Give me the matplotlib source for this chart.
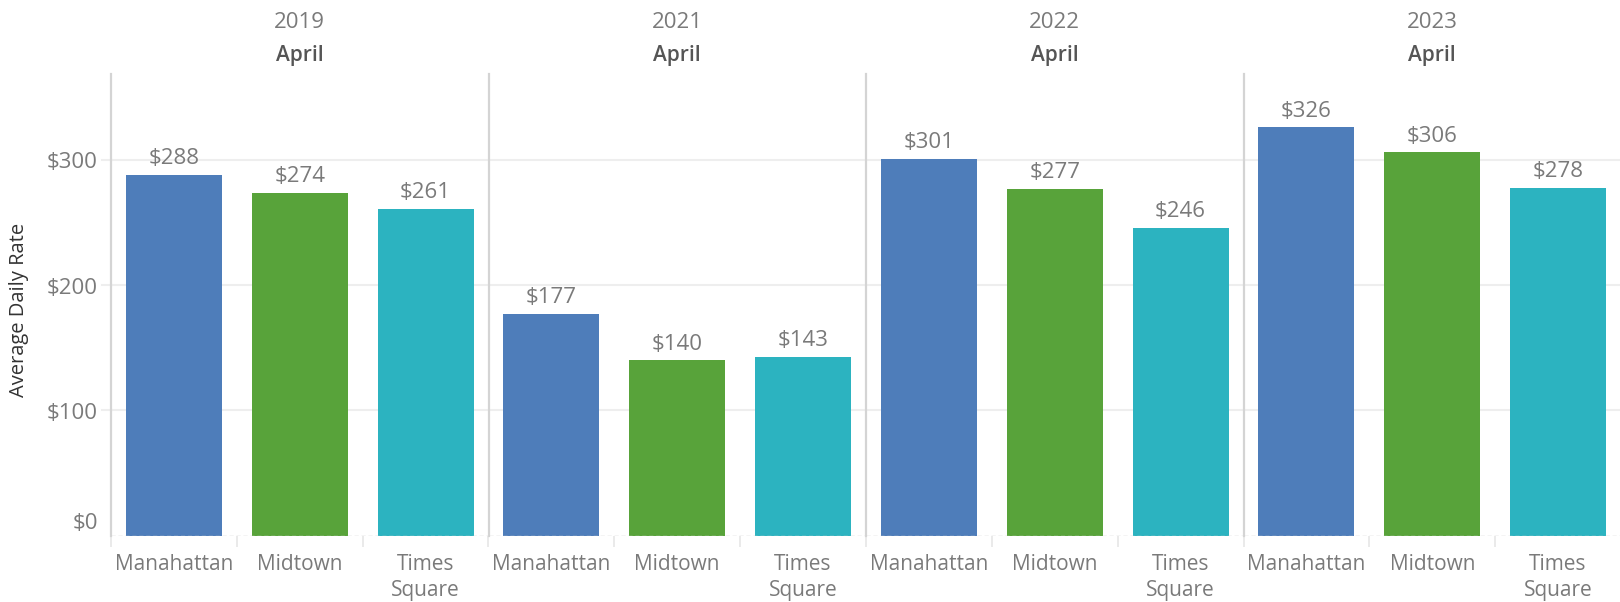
import matplotlib
matplotlib.use("Agg")
import matplotlib.pyplot as plt

years = ["2019", "2021", "2022", "2023"]
month = "April"
categories = ["Manahattan", "Midtown", "Times\nSquare"]
values = {
    "2019": [288, 274, 261],
    "2021": [177, 140, 143],
    "2022": [301, 277, 246],
    "2023": [326, 306, 278],
}
colors = ["#4e7dba", "#58a33a", "#2cb3c0"]
yticks = [0, 100, 200, 300]
ytick_labels = ["$0", "$100", "$200", "$300"]

plt.rcParams['font.family'] = ['Open Sans', 'DejaVu Sans']

W, H = 1620, 602
fig = plt.figure(figsize=(W / 100, H / 100), dpi=100)

left_px, right_px = 111, 1621
top_px, base_px = 74, 535.6
pw = (right_px - left_px) / 4
ymax = (base_px - top_px) / ((base_px - 160) / 300)

txt_gray = "#7a7a7a"
sep_col = "#d4d4d4"
grid_col = "#eeeeee"

for i, yr in enumerate(years):
    x0 = (left_px + i * pw) / W
    ax = fig.add_axes([x0, 1 - base_px / H, pw / W, (base_px - top_px) / H])
    ax.set_xlim(-0.5, 2.5)
    ax.set_ylim(0, ymax)
    for s in ["top", "right", "bottom"]:
        ax.spines[s].set_visible(False)
    ax.spines["left"].set_color(sep_col)
    ax.spines["left"].set_linewidth(1.6)
    for g in yticks[1:]:
        ax.axhline(g, color=grid_col, lw=1.5, zorder=0)
    ax.axhline(0, color="#c8c8c8", lw=1, ls=(0, (3, 2)), zorder=3)
    xs = list(range(len(categories)))
    ax.bar(xs, values[yr], width=0.764, color=colors, zorder=2)
    for x, v in zip(xs, values[yr]):
        ax.annotate(f"${v}", (x, v), xytext=(0, 4), textcoords="offset points",
                    ha="center", va="bottom", fontsize=16, color=txt_gray)
    ax.set_xticks([-0.5, 0.5, 1.5])
    ax.set_xticklabels([])
    ax.tick_params(axis="x", length=8, color="#e6e6e6", width=1.2)
    for x, c in zip(xs, categories):
        ax.annotate(c, (x, 0), xytext=(0, -13), textcoords="offset points",
                    ha="center", va="top", fontsize=15, color=txt_gray,
                    linespacing=1.35, annotation_clip=False)
    if i == 0:
        ax.set_yticks([])
        for g, lab in zip(yticks, ytick_labels):
            dy = 12 if g == 0 else -3
            ax.annotate(lab, (-0.5, g), xytext=(-13, dy), textcoords="offset pixels",
                        ha="right", va="center", fontsize=16, color=txt_gray,
                        annotation_clip=False)
        for g in yticks[1:]:
            ax.plot([-0.5 - 9 / pw * 3, -0.5], [g, g], color=grid_col, lw=1.5, clip_on=False)
    else:
        ax.set_yticks([])
    cx = (left_px + (i + 0.5) * pw) / W
    fig.text(cx, 1 - 22 / H, yr, ha="center", va="center", fontsize=16, color=txt_gray)
    fig.text(cx, 1 - 56 / H, month, ha="center", va="center", fontsize=15,
             color="#555555", fontweight="semibold")

fig.text(19 / W, 1 - 310 / H, "Average Daily Rate", rotation=90, ha="center", va="center",
         fontsize=14.5, color="#333333")

fig.savefig("out.png", dpi=100)
